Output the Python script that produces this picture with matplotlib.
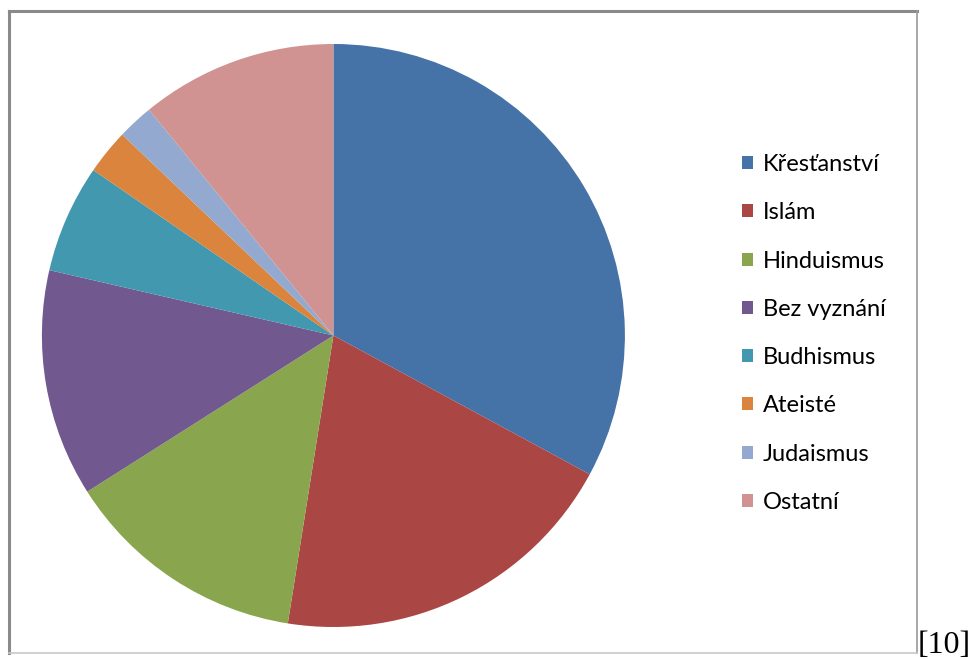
import matplotlib
matplotlib.use("Agg")
import matplotlib.pyplot as plt
from matplotlib.lines import Line2D

categories = ["Křesťanství", "Islám", "Hinduismus", "Bez vyznání",
              "Budhismus", "Ateisté", "Judaismus", "Ostatní"]
values = [32.9, 19.6, 13.5, 12.6, 6.0, 2.5, 2.0, 10.9]
colors = ["#4572A7", "#AA4643", "#89A54E", "#71588F",
          "#4198AF", "#DB843D", "#93A9CF", "#D19392"]

W, H = 973, 659
fig = plt.figure(figsize=(W / 100, H / 100), dpi=100)

# pie axes
cx, cy, r = 333.4, 335.5, 291.5
ax = fig.add_axes([(cx - r) / W, (H - cy - r) / H, 2 * r / W, 2 * r / H])
wedges, _ = ax.pie(values, colors=colors, startangle=90, counterclock=False,
                   radius=1.0, wedgeprops=dict(linewidth=0))
ax.set_xlim(-1, 1)
ax.set_ylim(-1, 1)
ax.set_aspect("equal")
ax.axis("off")

# frame
def fx(x):
    return x / W
def fy(y):
    return 1 - y / H
L, T, R, B = 9, 11, 917, 653
fig.add_artist(Line2D([fx(L), fx(R)], [fy(T), fy(T)], color="#8a8a8a", lw=2.2))
fig.add_artist(Line2D([fx(L), fx(L)], [fy(T), fy(B)], color="#8a8a8a", lw=2.2))
fig.add_artist(Line2D([fx(R), fx(R)], [fy(T), fy(B)], color="#9a9a9a", lw=1.2))
fig.add_artist(Line2D([fx(L), fx(R)], [fy(B), fy(B)], color="#c8c8c8", lw=1.2))

leg = fig.legend(wedges, categories, loc="upper left",
                 bbox_to_anchor=(fx(742), fy(154)),
                 frameon=False, prop={"family": "Lato", "size": 17},
                 handlelength=0.47, handleheight=0.47, handletextpad=0.42,
                 labelspacing=1.155, borderpad=0, borderaxespad=0)

fig.text(fx(918), fy(653), "[10]", family="Liberation Serif", fontsize=23,
         ha="left", va="baseline", color="black")

fig.savefig("out.png", dpi=100)
